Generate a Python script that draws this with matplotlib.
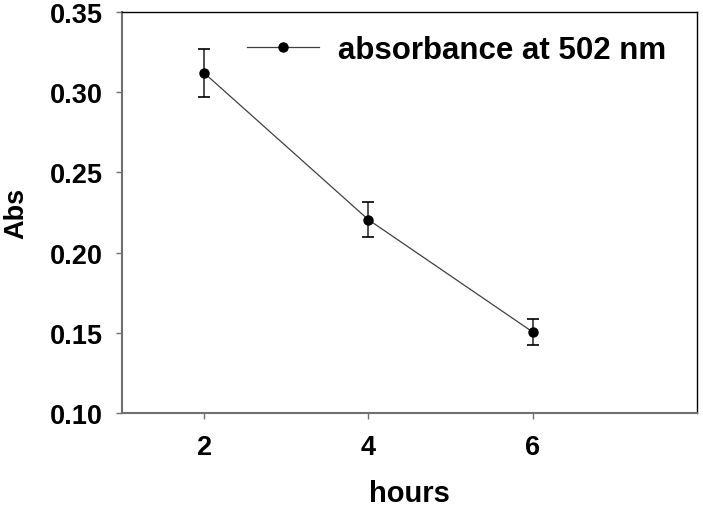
import matplotlib
matplotlib.use('Agg')
import matplotlib.pyplot as plt

hours = [2, 4, 6]
absorbance = [0.312, 0.2205, 0.1505]
abs_err = [0.015, 0.011, 0.008]
series_label = 'absorbance at 502 nm'

plt.rcParams['font.family'] = ['Liberation Sans', 'DejaVu Sans']
plt.rcParams['font.weight'] = 'bold'

fig = plt.figure(figsize=(7.03, 5.10), dpi=100)
ax = fig.add_axes([122 / 703, 1 - 414 / 510, 575 / 703, 401 / 510])

# error bars dark gray, caps black, thin connecting line
eb = ax.errorbar(hours, absorbance, yerr=abs_err, fmt='none', ecolor='#505050',
                 elinewidth=1.4, capsize=4.5, capthick=1.2, zorder=2)
for cap in eb[1]:
    cap.set_markeredgecolor('black')
ax.plot(hours, absorbance, color='#404040', linewidth=0.9, marker='o',
        markersize=6.5, markerfacecolor='black', markeredgecolor='black',
        label=series_label, zorder=3)

ax.set_xlim(1, 8)
ax.set_ylim(0.10, 0.35)
ax.set_xticks([2, 4, 6])
ax.set_yticks([0.10, 0.15, 0.20, 0.25, 0.30, 0.35])
ax.set_yticklabels(['%.2f' % v for v in [0.10, 0.15, 0.20, 0.25, 0.30, 0.35]])

for side in ['left', 'bottom']:
    ax.spines[side].set_color('#707070')
    ax.spines[side].set_linewidth(1.5)
for side in ['top', 'right']:
    ax.spines[side].set_color('black')
    ax.spines[side].set_linewidth(1.0)

ax.tick_params(axis='both', direction='out', length=4, width=1, color='#707070',
               labelsize=19.5, labelcolor='black')
ax.tick_params(axis='y', pad=10)
ax.tick_params(axis='x', pad=11)

ax.set_xlabel('hours', fontsize=21, fontweight='bold')
ax.set_ylabel('Abs', fontsize=19.5, fontweight='bold')
ax.xaxis.set_label_coords(0.5, -0.165)
ax.yaxis.set_label_coords(-0.162, 0.5)

ax.legend(loc='center left', bbox_to_anchor=(0.2174, 0.906), frameon=False,
          handlelength=2.3, handletextpad=0.6, borderpad=0,
          borderaxespad=0, prop={'weight': 'bold', 'size': 22.5})

fig.savefig('out.png', dpi=100)
